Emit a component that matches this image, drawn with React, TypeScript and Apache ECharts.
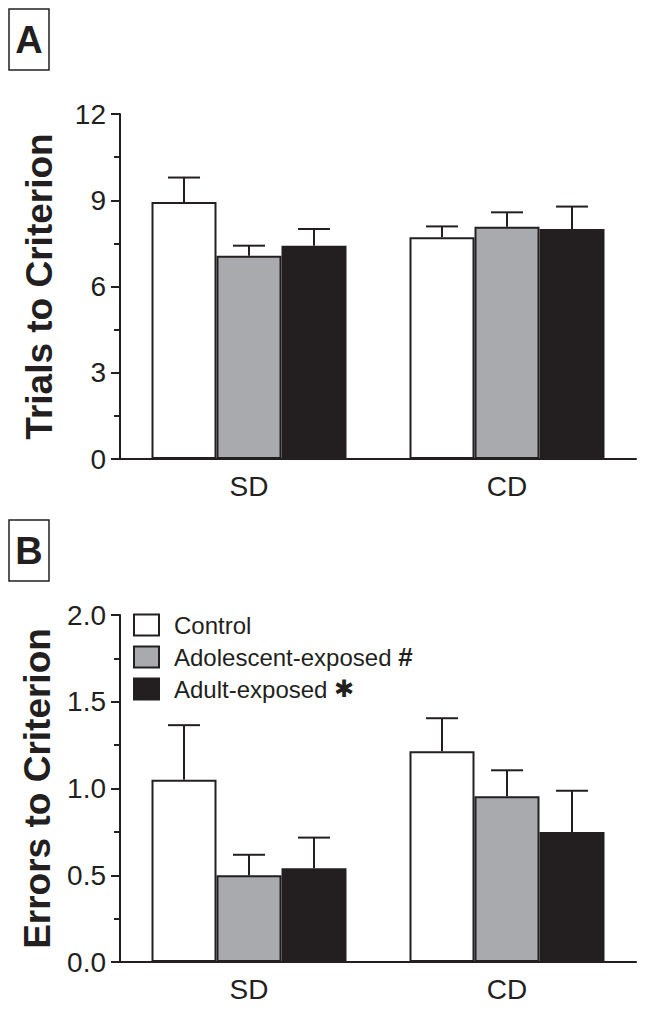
import React, { useEffect, useRef } from "react";
import * as echarts from "echarts";

const categories = ["SD", "CD"];
const groupNames = ["Control", "Adolescent-exposed", "Adult-exposed"];
const groupColors = ["#ffffff", "#a9aaae", "#231f20"];

// Panel A: Trials to Criterion (mean, SEM)
const trialsControl = [8.94, 7.71];
const trialsControlErr = [0.85, 0.38];
const trialsAdolescent = [7.07, 8.08];
const trialsAdolescentErr = [0.35, 0.5];
const trialsAdult = [7.42, 8.0];
const trialsAdultErr = [0.58, 0.78];
const trialsTicks = [0, 3, 6, 9, 12];

// Panel B: Errors to Criterion (mean, SEM)
const errorsControl = [1.05, 1.215];
const errorsControlErr = [0.315, 0.19];
const errorsAdolescent = [0.5, 0.955];
const errorsAdolescentErr = [0.118, 0.15];
const errorsAdult = [0.54, 0.75];
const errorsAdultErr = [0.177, 0.237];
const errorsTicks = [0, 0.5, 1.0, 1.5, 2.0];

const INK = "#231f20";
const FONT = "'Liberation Sans', Arial, Helvetica, sans-serif";
const BAR_W = 65;
const CAP = 16;

export default function App() {
  const ref = useRef<HTMLDivElement>(null);

  useEffect(() => {
    if (!ref.current) return;
    const chart = echarts.init(ref.current, null, { renderer: "svg" });

    const panels = [
      { means: [trialsControl, trialsAdolescent, trialsAdult], errs: [trialsControlErr, trialsAdolescentErr, trialsAdultErr], ticks: trialsTicks },
      { means: [errorsControl, errorsAdolescent, errorsAdult], errs: [errorsControlErr, errorsAdolescentErr, errorsAdultErr], ticks: errorsTicks },
    ];

    const series: any[] = [];
    panels.forEach((p, pi) => {
      p.means.forEach((m, gi) => {
        series.push({
          type: "bar",
          name: groupNames[gi],
          xAxisIndex: pi,
          yAxisIndex: pi,
          data: m,
          barWidth: BAR_W,
          barGap: "0%",
          itemStyle: { color: groupColors[gi], borderColor: INK, borderWidth: 2 },
          z: 2,
        });
      });
      p.means.forEach((m, gi) => {
        series.push({
          type: "custom",
          name: groupNames[gi] + " SEM",
          xAxisIndex: pi,
          yAxisIndex: pi,
          data: m.map((v, ci) => [ci, v, p.errs[gi][ci]]),
          z: 3,
          renderItem: (params: any, api: any) => {
            const ci = api.value(0);
            const mean = api.value(1);
            const e = api.value(2);
            const base = api.coord([ci, mean]);
            const top = api.coord([ci, mean + e]);
            const x = base[0] + (gi - 1) * BAR_W;
            const style = { stroke: INK, lineWidth: 2 };
            return {
              type: "group",
              children: [
                { type: "line", shape: { x1: x, y1: base[1], x2: x, y2: top[1] }, style },
                { type: "line", shape: { x1: x - CAP, y1: top[1], x2: x + CAP, y2: top[1] }, style },
              ],
            };
          },
        });
      });
    });

    const yNames = ["Trials to Criterion", "Errors to Criterion"];
    const yMax = [12, 2];
    const yInt = [3, 0.5];

    const option: any = {
      animation: false,
      backgroundColor: "#ffffff",
      textStyle: { fontFamily: FONT, color: INK },
      grid: [
        { left: 120, top: 114, width: 516, height: 345 },
        { left: 120, top: 615, width: 516, height: 347 },
      ],
      legend: {
        data: groupNames,
        orient: "vertical",
        left: 133,
        top: 613,
        padding: 0,
        itemWidth: 25,
        itemHeight: 21,
        itemGap: 7,
        icon: "rect",
        selectedMode: false,
        textStyle: {
          fontFamily: FONT,
          fontSize: 24,
          lineHeight: 21,
          color: INK,
          padding: [0, 0, 0, 10],
          rich: {
            n: { fontSize: 24, lineHeight: 21, color: INK, fontFamily: FONT },
            b: { fontSize: 26, lineHeight: 21, fontWeight: "bold", color: INK, fontFamily: FONT },
            s: { fontSize: 24, lineHeight: 21, fontWeight: "bold", color: INK, fontFamily: "'DejaVu Sans', sans-serif" },
          },
        },
        formatter: (name: string) =>
          name === "Adolescent-exposed"
            ? "{n|" + name + " }{b|#}"
            : name === "Adult-exposed"
            ? "{n|" + name + " }{s|\u2731}"
            : "{n|" + name + "}",
      },
      xAxis: [0, 1].map((i) => ({
        type: "category",
        gridIndex: i,
        data: categories,
        axisLine: { lineStyle: { color: INK, width: 2 } },
        axisTick: { alignWithLabel: true, length: 10, lineStyle: { color: INK, width: 2 } },
        axisLabel: { fontSize: 28, color: INK, margin: 13, fontFamily: FONT },
      })),
      yAxis: [0, 1].map((i) => ({
        type: "value",
        gridIndex: i,
        min: 0,
        max: yMax[i],
        interval: yInt[i],
        name: yNames[i],
        nameLocation: "middle",
        nameGap: 62,
        nameTextStyle: { fontSize: 37, fontWeight: "bold", color: INK, fontFamily: FONT },
        axisLine: { show: true, lineStyle: { color: INK, width: 2 } },
        axisTick: { show: true, length: 9, lineStyle: { color: INK, width: 2 } },
        minorTick: { show: true, splitNumber: 2, length: 6, lineStyle: { color: INK, width: 2 } },
        splitLine: { show: false },
        axisLabel: {
          fontSize: 28,
          color: INK,
          margin: 14,
          fontFamily: FONT,
          formatter: (v: number) => (i === 0 ? String(v) : v.toFixed(1)),
        },
      })),
      graphic: [
        { type: "rect", shape: { x: 9, y: 9, width: 40, height: 61 }, style: { fill: "#fff", stroke: INK, lineWidth: 1.5 } },
        { type: "text", x: 29, y: 40, style: { text: "A", fontSize: 38, fontWeight: "bold", fontFamily: FONT, fill: INK, align: "center", verticalAlign: "middle" } },
        { type: "rect", shape: { x: 9, y: 520, width: 40, height: 61 }, style: { fill: "#fff", stroke: INK, lineWidth: 1.5 } },
        { type: "text", x: 29, y: 551, style: { text: "B", fontSize: 38, fontWeight: "bold", fontFamily: FONT, fill: INK, align: "center", verticalAlign: "middle" } },
      ],
      series,
    };

    chart.setOption(option);
    return () => chart.dispose();
  }, []);

  return (
    <div
      ref={ref}
      style={{ position: "fixed", left: 0, top: 0, width: 649, height: 1011, background: "#fff" }}
    />
  );
}
